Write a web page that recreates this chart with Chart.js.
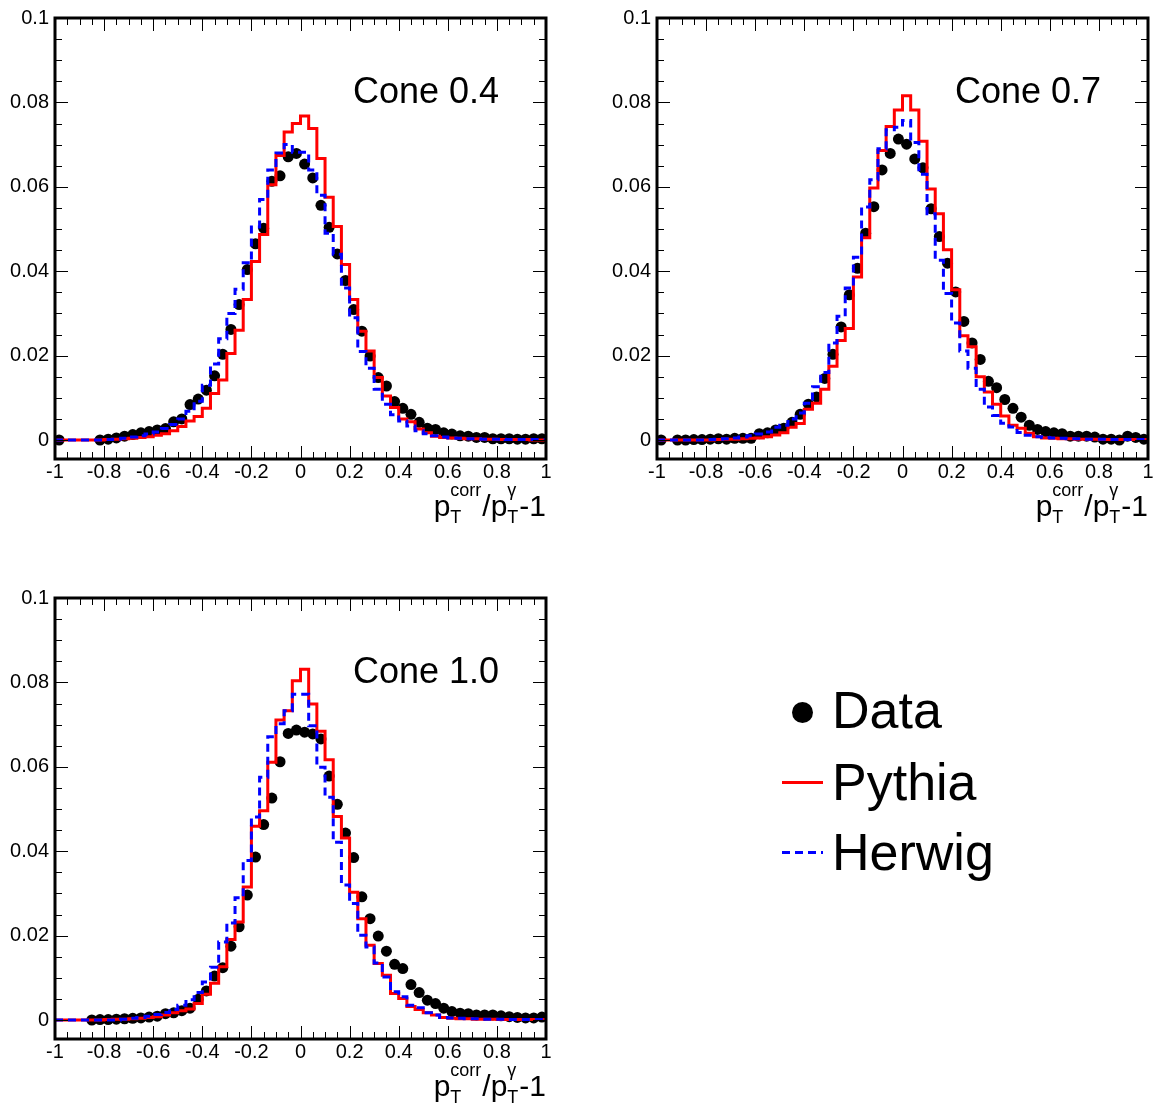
<!DOCTYPE html>
<html>
<head>
<meta charset="utf-8">
<script src="https://cdn.jsdelivr.net/npm/chart.js@4.4.1/dist/chart.umd.min.js"></script>
<style>
  html, body { margin:0; padding:0; background:#fff; overflow:hidden; }
  body { width:1156px; height:1111px; position:relative; font-family:"Liberation Sans", Arial, sans-serif; }
  canvas { position:absolute; }
  .lgtext { position:absolute; left:832px; font-size:52px; line-height:52px; color:#000; white-space:nowrap; }
  .sym { position:absolute; }
</style>
</head>
<body>
<canvas id="c04" width="578" height="531" style="left:0;top:0"></canvas>
<canvas id="c07" width="554" height="531" style="left:602px;top:0"></canvas>
<canvas id="c10" width="578" height="531" style="left:0;top:580px"></canvas>

<!-- legend -->
<div class="sym" style="left:792px;top:702px;width:21px;height:21px;border-radius:50%;background:#000"></div>
<div class="lgtext" style="top:684px">Data</div>
<div class="sym" style="left:782px;top:781px;width:41px;height:3px;background:#ff0000"></div>
<div class="lgtext" style="top:756px">Pythia</div>
<div class="sym" style="left:782px;top:851px;width:41px;height:3px;background:repeating-linear-gradient(to right,#0000ff 0 8px,transparent 8px 13px)"></div>
<div class="lgtext" style="top:826px">Herwig</div>

<script>
// binning: 60 bins from -1 to 1
const xLow = -1;
const nBins = 60;
const binW = 2 / nBins;

const xTickValues = [-1, -0.8, -0.6, -0.4, -0.2, 0, 0.2, 0.4, 0.6, 0.8, 1];
const xTickLabels = ['-1', '-0.8', '-0.6', '-0.4', '-0.2', '0', '0.2', '0.4', '0.6', '0.8', '1'];
const yTickValues = [0, 0.02, 0.04, 0.06, 0.08, 0.1];
const yTickLabels = ['0', '0.02', '0.04', '0.06', '0.08', '0.1'];

// ---- Cone 0.4 ----
const dataCone04 = [0, null, null, null, null, 0.0000, 0.0002, 0.0005, 0.0009, 0.0013,
  0.0017, 0.0020, 0.0024, 0.0027, 0.0043, 0.0050, 0.0084, 0.0097, 0.0118, 0.0152,
  0.0203, 0.0262, 0.0321, 0.0404, 0.0465, 0.0502, 0.0613, 0.0626, 0.0671, 0.0679,
  0.0654, 0.0621, 0.0556, 0.0504, 0.0441, 0.0378, 0.0309, 0.0258, 0.0199, 0.0148,
  0.0128, 0.0091, 0.0075, 0.0061, 0.0042, 0.0028, 0.0025, 0.0017, 0.0014, 0.0010,
  0.0009, 0.0006, 0.0006, 0.0003, 0.0003, 0.0003, 0.0002, 0.0002, 0.0003, 0.0003];
const pythiaCone04 = [0, 0, 0, 0, 0, 0, 0.0001, 0.0002, 0.0003, 0.0004,
  0.0006, 0.0008, 0.0011, 0.0015, 0.0022, 0.0032, 0.0045, 0.0056, 0.0075, 0.0110,
  0.0142, 0.0205, 0.0260, 0.0333, 0.0423, 0.0487, 0.0605, 0.0674, 0.0730, 0.0750,
  0.0768, 0.0738, 0.0667, 0.0575, 0.0506, 0.0416, 0.0333, 0.0258, 0.0211, 0.0148,
  0.0104, 0.0077, 0.0050, 0.0043, 0.0026, 0.0017, 0.0009, 0.0006, 0.0005, 0.0004,
  0.0003, 0.0003, 0.0002, 0.0002, 0.0001, 0.0001, 0.0001, 0.0001, 0.0000, 0.0000];
const herwigCone04 = [0, 0, 0, 0, 0, 0, 0.0001, 0.0002, 0.0004, 0.0007,
  0.0010, 0.0014, 0.0019, 0.0027, 0.0037, 0.0050, 0.0068, 0.0092, 0.0130, 0.0180,
  0.0240, 0.0300, 0.0357, 0.0420, 0.0505, 0.0570, 0.0640, 0.0680, 0.0700, 0.0682,
  0.0682, 0.0640, 0.0580, 0.0490, 0.0440, 0.0360, 0.0290, 0.0210, 0.0170, 0.0120,
  0.0085, 0.0060, 0.0045, 0.0033, 0.0022, 0.0015, 0.0010, 0.0007, 0.0005, 0.0004,
  0.0003, 0.0003, 0.0002, 0.0002, 0.0002, 0.0001, 0.0001, 0.0001, 0.0001, 0.0001];

// ---- Cone 0.7 ----
const dataCone07 = [0, null, 0.0000, 0.0000, 0.0001, 0.0001, 0.0002, 0.0003, 0.0002, 0.0004,
  0.0004, 0.0004, 0.0015, 0.0017, 0.0024, 0.0028, 0.0042, 0.0061, 0.0085, 0.0102,
  0.0146, 0.0203, 0.0268, 0.0344, 0.0407, 0.0490, 0.0553, 0.0640, 0.0679, 0.0713,
  0.0701, 0.0666, 0.0645, 0.0548, 0.0482, 0.0419, 0.0351, 0.0281, 0.0230, 0.0191,
  0.0139, 0.0124, 0.0096, 0.0075, 0.0054, 0.0035, 0.0025, 0.0020, 0.0017, 0.0015,
  0.0009, 0.0009, 0.0009, 0.0007, 0.0002, 0.0002, 0.0000, 0.0009, 0.0006, 0.0002];
const pythiaCone07 = [0, 0, 0, 0, 0, 0, 0, 0.0001, 0.0002, 0.0002,
  0.0003, 0.0004, 0.0005, 0.0008, 0.0012, 0.0017, 0.0030, 0.0039, 0.0073, 0.0087,
  0.0120, 0.0175, 0.0236, 0.0264, 0.0386, 0.0479, 0.0597, 0.0686, 0.0743, 0.0782,
  0.0816, 0.0782, 0.0708, 0.0595, 0.0536, 0.0451, 0.0356, 0.0247, 0.0221, 0.0150,
  0.0114, 0.0085, 0.0057, 0.0035, 0.0028, 0.0016, 0.0008, 0.0005, 0.0004, 0.0003,
  0.0003, 0.0002, 0.0002, 0.0002, 0.0001, 0.0001, 0.0001, 0.0001, 0.0001, 0.0001];
const herwigCone07 = [0, 0, 0, 0, 0, 0, 0.0001, 0.0002, 0.0003, 0.0005,
  0.0007, 0.0010, 0.0014, 0.0019, 0.0030, 0.0035, 0.0050, 0.0064, 0.0087, 0.0126,
  0.0160, 0.0230, 0.0293, 0.0360, 0.0433, 0.0552, 0.0617, 0.0690, 0.0735, 0.0741,
  0.0757, 0.0705, 0.0630, 0.0536, 0.0426, 0.0347, 0.0277, 0.0211, 0.0170, 0.0120,
  0.0078, 0.0058, 0.0040, 0.0031, 0.0018, 0.0011, 0.0008, 0.0006, 0.0005, 0.0004,
  0.0003, 0.0003, 0.0002, 0.0002, 0.0002, 0.0001, 0.0001, 0.0001, 0.0001, 0.0001];

// ---- Cone 1.0 ----
const dataCone10 = [null, null, null, null, 0.0000, 0.0001, 0.0001, 0.0002, 0.0003, 0.0004,
  0.0005, 0.0007, 0.0009, 0.0015, 0.0017, 0.0022, 0.0028, 0.0049, 0.0069, 0.0104,
  0.0124, 0.0175, 0.0221, 0.0296, 0.0386, 0.0463, 0.0526, 0.0612, 0.0679, 0.0687,
  0.0682, 0.0678, 0.0666, 0.0578, 0.0511, 0.0443, 0.0385, 0.0292, 0.0240, 0.0199,
  0.0163, 0.0132, 0.0122, 0.0084, 0.0065, 0.0047, 0.0039, 0.0028, 0.0020, 0.0016,
  0.0015, 0.0012, 0.0012, 0.0012, 0.0010, 0.0008, 0.0006, 0.0005, 0.0005, 0.0007];
const pythiaCone10 = [0, 0, 0, 0, 0, 0, 0.0001, 0.0002, 0.0002, 0.0003,
  0.0004, 0.0006, 0.0008, 0.0012, 0.0017, 0.0022, 0.0026, 0.0039, 0.0061, 0.0087,
  0.0126, 0.0191, 0.0232, 0.0315, 0.0459, 0.0496, 0.0611, 0.0711, 0.0733, 0.0804,
  0.0831, 0.0749, 0.0684, 0.0617, 0.0482, 0.0431, 0.0303, 0.0240, 0.0177, 0.0134,
  0.0106, 0.0063, 0.0051, 0.0032, 0.0025, 0.0017, 0.0012, 0.0006, 0.0004, 0.0003,
  0.0003, 0.0002, 0.0002, 0.0002, 0.0001, 0.0001, 0.0001, 0.0001, 0.0001, 0.0001];
const herwigCone10 = [0, 0, 0, 0, 0, 0, 0, 0, 0.0002, 0.0004,
  0.0006, 0.0009, 0.0013, 0.0018, 0.0025, 0.0035, 0.0048, 0.0065, 0.0090, 0.0125,
  0.0185, 0.0230, 0.0290, 0.0378, 0.0481, 0.0575, 0.0671, 0.0702, 0.0733, 0.0772,
  0.0772, 0.0697, 0.0599, 0.0528, 0.0421, 0.0320, 0.0276, 0.0201, 0.0173, 0.0135,
  0.0102, 0.0067, 0.0055, 0.0035, 0.0029, 0.0017, 0.0012, 0.0006, 0.0005, 0.0004,
  0.0003, 0.0003, 0.0002, 0.0002, 0.0002, 0.0001, 0.0001, 0.0001, 0.0001, 0.0001];

const FONT = '"Liberation Sans", Arial, sans-serif';

// histogram -> step line points at the low bin edges (+ closing edge)
function histPoints(vals) {
  const pts = vals.map((v, i) => ({ x: xLow + i * binW, y: v }));
  pts.push({ x: xLow + vals.length * binW, y: vals[vals.length - 1] });
  return pts;
}
// data -> markers at bin centres
function dataPoints(vals) {
  return vals.map((v, i) => ({ x: xLow + (i + 0.5) * binW, y: v }));
}

// ROOT style frame with inward ticks on all four sides, plus the texts
const rootFrame = {
  id: 'rootFrame',
  afterDraw(chart, args, opts) {
    const { ctx, chartArea: a, scales: { x, y } } = chart;
    ctx.save();
    ctx.strokeStyle = '#000';
    ctx.lineWidth = 1;
    ctx.beginPath();
    for (let k = 0; k <= 40; k++) {
      const v = -1 + k * 0.05;
      const px = Math.round(x.getPixelForValue(v)) + 0.5;
      const len = (k % 4 === 0) ? 13 : 7;
      ctx.moveTo(px, a.bottom); ctx.lineTo(px, a.bottom - len);
      ctx.moveTo(px, a.top); ctx.lineTo(px, a.top + len);
    }
    for (let k = 0; k <= 20; k++) {
      const v = k * 0.005;
      const py = Math.round(y.getPixelForValue(v)) + 0.5;
      const len = (k % 4 === 0) ? 13 : 7;
      ctx.moveTo(a.left, py); ctx.lineTo(a.left + len, py);
      ctx.moveTo(a.right, py); ctx.lineTo(a.right - len, py);
    }
    ctx.stroke();
    ctx.lineWidth = 3;
    ctx.strokeRect(a.left, a.top, a.right - a.left, a.bottom - a.top);

    // cone label
    ctx.fillStyle = '#000';
    ctx.textBaseline = 'alphabetic';
    ctx.font = '36px ' + FONT;
    ctx.fillText(opts.cone, a.left + 298, a.top + 85);

    // x axis title p_T^corr/p_T^gamma-1, right aligned
    const big = '30px ' + FONT, small = '18px ' + FONT;
    const base = a.bottom + 57;
    const parts = [
      { t: 'p' }, { sup: 'corr', sub: 'T' }, { t: '/p' }, { sup: '\u03b3', sub: 'T' }, { t: '-1' }
    ];
    const widths = parts.map(p => {
      if (p.t) { ctx.font = big; return ctx.measureText(p.t).width; }
      ctx.font = small;
      return Math.max(ctx.measureText(p.sup).width, ctx.measureText(p.sub).width) + 1;
    });
    let cx = a.right - widths.reduce((s, w) => s + w, 0);
    parts.forEach((p, i) => {
      if (p.t) { ctx.font = big; ctx.fillText(p.t, cx, base); }
      else {
        ctx.font = small;
        ctx.fillText(p.sup, cx, base - 20);
        ctx.fillText(p.sub, cx, base + 7);
      }
      cx += widths[i];
    });
    ctx.restore();
  }
};

function makePanel(id, cone, data, pythia, herwig) {
  const cv = document.getElementById(id);
  const W = cv.width, H = cv.height;
  new Chart(cv, {
    type: 'line',
    data: {
      datasets: [
        { label: 'Herwig', data: histPoints(herwig), borderColor: '#0000ff', borderWidth: 3,
          borderDash: [8, 5], stepped: true, pointRadius: 0, fill: false, order: 0 },
        { label: 'Pythia', data: histPoints(pythia), borderColor: '#ff0000', borderWidth: 3,
          stepped: true, pointRadius: 0, fill: false, order: 1 },
        { label: 'Data', data: dataPoints(data), showLine: false, pointRadius: 5.5,
          pointBackgroundColor: '#000', pointBorderColor: '#000', pointBorderWidth: 0, order: 2 }
      ]
    },
    options: {
      responsive: false,
      animation: false,
      devicePixelRatio: 1,
      layout: { padding: { top: 17, right: W - 546, left: 0, bottom: 0 } },
      plugins: { legend: { display: false }, tooltip: { enabled: false }, rootFrame: { cone } },
      scales: {
        x: {
          type: 'linear', min: -1, max: 1,
          grid: { display: false, drawTicks: false }, border: { display: false },
          afterBuildTicks: s => { s.ticks = xTickValues.map(v => ({ value: v })); },
          ticks: { color: '#000', font: { family: FONT, size: 20 }, padding: 1,
            autoSkip: false, maxRotation: 0, callback: (v, i) => xTickLabels[i] },
          afterFit: s => { s.height = H - 459; }
        },
        y: {
          type: 'linear', min: -0.0045, max: 0.1,
          grid: { display: false, drawTicks: false }, border: { display: false },
          afterBuildTicks: s => { s.ticks = yTickValues.map(v => ({ value: v })); },
          ticks: { color: '#000', font: { family: FONT, size: 20 }, padding: 6,
            autoSkip: false, callback: (v, i) => yTickLabels[i] },
          afterFit: s => { s.width = 55; }
        }
      }
    },
    plugins: [rootFrame]
  });
}

makePanel('c04', 'Cone 0.4', dataCone04, pythiaCone04, herwigCone04);
makePanel('c07', 'Cone 0.7', dataCone07, pythiaCone07, herwigCone07);
makePanel('c10', 'Cone 1.0', dataCone10, pythiaCone10, herwigCone10);
</script>
</body>
</html>
